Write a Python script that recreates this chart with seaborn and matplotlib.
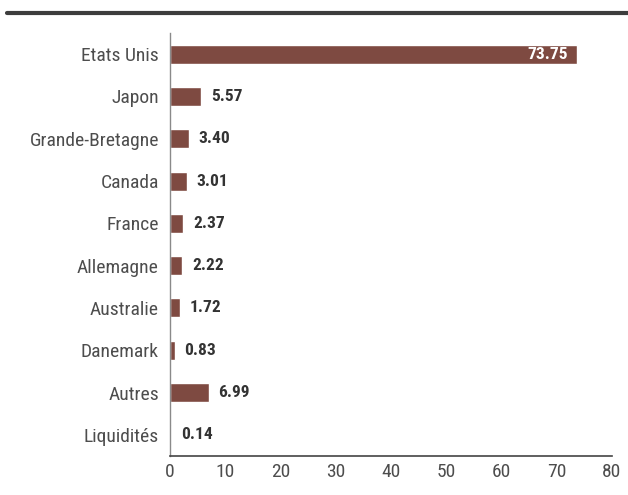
import matplotlib
matplotlib.use("Agg")
import matplotlib.pyplot as plt
from matplotlib import font_manager
import seaborn as sns
import pandas as pd

# ================= DATA =================
pays = ["Etats Unis", "Japon", "Grande-Bretagne", "Canada", "France",
        "Allemagne", "Australie", "Danemark", "Autres", "Liquidités"]
poids = [73.75, 5.57, 3.40, 3.01, 2.37, 2.22, 1.72, 0.83, 6.99, 0.14]
xticks = [0, 10, 20, 30, 40, 50, 60, 70, 80]

df = pd.DataFrame({"pays": pays, "poids": poids})

# ================= STYLE =================
sns.set_style("white")
names = {f.name for f in font_manager.fontManager.ttflist}
fam = "DejaVu Sans"
for cand in ["Roboto Condensed", "Liberation Sans Narrow", "Open Sans Condensed", "Noto Sans"]:
    if cand in names:
        fam = cand
        break
plt.rcParams["font.family"] = [fam, "DejaVu Sans"]
stretch = "condensed" if fam in ("DejaVu Sans", "Noto Sans") else "normal"

BAR = "#7e4a41"

fig = plt.figure(figsize=(6.28, 4.95), dpi=100)
ax = fig.add_axes([0.2707, 0.0788, 0.7038, 0.8545])

sns.barplot(data=df, x="poids", y="pays", color=BAR, width=0.45,
            saturation=1, ax=ax)

ax.set_xlim(0, 80)
ax.set_ylim(9.5, -0.5)
ax.set_xticks(xticks)
ax.set_xticklabels([str(t) for t in xticks])
ax.set_xlabel("")
ax.set_ylabel("")
ax.tick_params(axis="both", length=0, colors="#4d4d4d", labelsize=14, pad=5)
ax.tick_params(axis="y", pad=8)
for lab in ax.get_xticklabels() + ax.get_yticklabels():
    lab.set_fontstretch(stretch)

sns.despine(ax=ax, top=True, right=True)
ax.spines["left"].set_color("#8a8a8a")
ax.spines["left"].set_linewidth(1.0)
ax.spines["bottom"].set_color("#444444")
ax.spines["bottom"].set_linewidth(1.2)

# ================= VALUE LABELS =================
for i, v in enumerate(poids):
    if v > 50:
        ax.text(v - 1.7, i, f"{v:.2f}", ha="right", va="center", color="white",
                fontsize=12.5, fontweight="bold", fontstretch=stretch)
    else:
        ax.text(v + 1.8, i, f"{v:.2f}", ha="left", va="center", color="#333333",
                fontsize=12.5, fontweight="bold", fontstretch=stretch)

# top rule
fig.add_artist(plt.Line2D([0.011, 1.0], [0.974, 0.974], color="#3d3d3d",
                          linewidth=3, transform=fig.transFigure))

fig.savefig("out.png", dpi=100)
